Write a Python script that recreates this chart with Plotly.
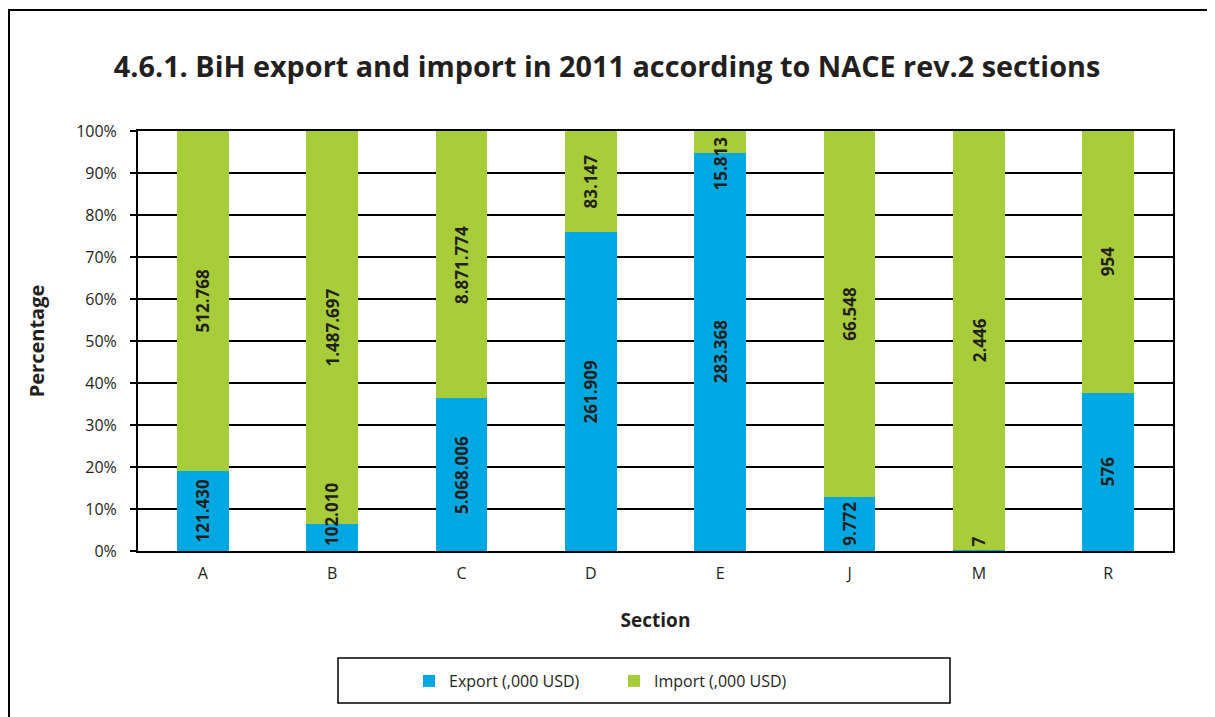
import plotly.graph_objects as go

sections = ["A", "B", "C", "D", "E", "J", "M", "R"]
export_vals = [121430, 102010, 5068006, 261909, 283368, 9772, 7, 576]
import_vals = [512768, 1487697, 8871774, 83147, 15813, 66548, 2446, 954]
y_ticks = [0, 10, 20, 30, 40, 50, 60, 70, 80, 90, 100]
y_tick_labels = ["0%", "10%", "20%", "30%", "40%", "50%", "60%", "70%", "80%", "90%", "100%"]


def fmt(v):
    return f"{v:,}".replace(",", ".")


BLUE = "#00A8E1"
GREEN = "#A8CD3A"
TXT = "#231F20"
FONT = "Open Sans"

fig = go.Figure()
fig.add_bar(x=sections, y=export_vals, name="Export (,000 USD)", marker_color=BLUE,
            marker_line_width=0, hoverinfo="x+y")
fig.add_bar(x=sections, y=import_vals, name="Import (,000 USD)", marker_color=GREEN,
            marker_line_width=0, hoverinfo="x+y")

# data labels placed through the y axis (percent scale)
annotations = []
for s, e, i in zip(sections, export_vals, import_vals):
    tot = e + i
    pe = e / tot * 100
    for v, lo, hi in ((e, 0, pe), (i, pe, 100)):
        seg = hi - lo
        if seg < 10 and lo == 0:
            yv, ya = 0.6, "bottom"
        elif seg < 10 and hi == 100:
            yv, ya = 99.2, "top"
        else:
            yv, ya = (lo + hi) / 2, "middle"
        annotations.append(dict(x=s, y=yv, xref="x", yref="y", text=f"<b>{fmt(v)}</b>",
                                textangle=-90, showarrow=False, xanchor="center", yanchor=ya,
                                font=dict(family=FONT, size=17, color=TXT)))

OFF = 8  # default page body margin
W, H = 1215 - OFF, 717 - OFF
L, R, T, B = 138 - OFF, 42, 131 - OFF, 166
pw, ph = W - L - R, H - T - B


def px(x):
    return (x - OFF - L) / pw


def py(y):
    return (H - B - (y - OFF)) / ph


fig.update_layout(
    width=W, height=H,
    margin=dict(l=L, r=R, t=T, b=B),
    paper_bgcolor="white", plot_bgcolor="white",
    barmode="stack", barnorm="percent", bargap=0.6,
    font=dict(family=FONT, size=16, color=TXT),
    title=dict(text="<b>4.6.1. BiH export and import in 2011 according to NACE rev.2 sections</b>",
               x=(607 - OFF) / W, xanchor="center", y=1 - (67 - OFF) / H, yanchor="middle",
               font=dict(family=FONT, size=28.8, color=TXT)),
    showlegend=True,
    legend=dict(orientation="h", x=px(409), xanchor="left", y=py(681), yanchor="middle",
                traceorder="normal",
                font=dict(family=FONT, size=16, color=TXT), bgcolor="rgba(0,0,0,0)",
                entrywidth=160, itemwidth=30),
    xaxis=dict(showline=True, linecolor="black", linewidth=2, mirror=True,
               ticks="outside", ticklen=7, tickcolor="rgba(0,0,0,0)",
               tickfont=dict(size=16),
               title=dict(text="<b>Section</b>", font=dict(size=19), standoff=30)),
    yaxis=dict(range=[0, 100], tickmode="array", tickvals=y_ticks, ticktext=y_tick_labels,
               showline=True, linecolor="black", linewidth=2, mirror=True,
               ticks="outside", ticklen=6, tickcolor="black", tickwidth=1.5,
               ticklabelstandoff=10,
               showgrid=True, gridcolor="black", gridwidth=1.5, zeroline=False,
               tickfont=dict(size=16),
               title=dict(text="<b>Percentage</b>", font=dict(size=20), standoff=26)),
    annotations=annotations,
    shapes=[
        dict(type="rect", xref="paper", yref="paper", x0=px(9), x1=px(1225), y0=py(730), y1=py(10),
             line=dict(color="black", width=2), fillcolor="rgba(0,0,0,0)", layer="below"),
        dict(type="rect", xref="paper", yref="paper", x0=px(338), x1=px(950), y0=py(703), y1=py(658),
             line=dict(color="black", width=1.5), fillcolor="rgba(0,0,0,0)"),
    ],
)

fig.write_html("out.html")
